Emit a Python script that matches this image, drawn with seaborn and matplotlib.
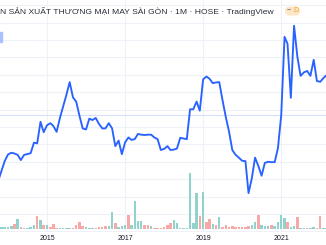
import matplotlib
matplotlib.use("Agg")
import matplotlib.pyplot as plt
import matplotlib.patches as mpatches
import matplotlib.transforms as mtransforms
import numpy as np
import pandas as pd
import seaborn as sns

# ---------------- data (monthly) ----------------
first_month = "2013-10-01"
price = [14.5, 17.4, 20.2, 22.1, 22.6, 22.4, 22.0, 20.5, 22.0, 22.2,
         22.5, 25.5, 25.3, 31.5, 28.5, 30.5, 31.1, 30.3, 28.6, 32.5,
         35.9, 39.2, 42.9, 38.5, 37.3, 33.2, 29.6, 29.3, 32.4, 32.0,
         32.6, 30.9, 29.6, 29.6, 31.1, 29.6, 24.5, 26.1, 22.2, 25.6,
         27.0, 26.3, 26.5, 28.0, 27.8, 27.7, 27.8, 27.8, 27.0, 26.5,
         23.4, 23.7, 24.5, 23.4, 23.5, 23.8, 26.9, 26.7, 26.5, 35.1,
         35.1, 37.3, 34.7, 43.7, 44.5, 43.9, 42.6, 42.8, 42.9, 37.8,
         32.9, 28.6, 23.4, 22.0, 21.2, 20.3, 20.2, 11.0, 15.3, 21.2,
         18.8, 16.0, 19.7, 20.0, 19.9, 19.9, 23.9, 33.4, 55.9, 53.9,
         38.4, 59.1, 50.2, 44.7, 45.7, 46.1, 44.7, 49.3, 43.2, 43.0,
         44.1, 44.9]
volume = [8, 8, 8, 8, 10, 15, 30, 8, 4, 4,
          6, 12, 40, 28, 13, 12, 6, 15, 4, 5,
          5, 5, 5, 5, 13, 23, 10, 6, 3, 3,
          4, 6, 8, 10, 10, 52, 18, 8, 10, 14,
          44, 14, 84, 26, 26, 12, 14, 10, 4, 4,
          4, 6, 12, 20, 28, 18, 4, 4, 4, 170,
          20, 108, 40, 111, 22, 30, 16, 12, 36, 6,
          12, 8, 10, 8, 8, 6, 8, 10, 12, 22,
          43, 12, 10, 10, 12, 10, 22, 42, 34, 23,
          6, 10, 36, 4, 4, 4, 4, 8, 4, 40,
          4, 4]
direction = list("u"
                 "uuuududuuu" "udududdduu" "uudddduuud" "ddduuduuud"
                 "uuuudduddd" "ddduuuuuuu" "ududdududd" "ddddddduud"
                 "uuuduuuudu" "uduuduudduu")
year_ticks = ["2015-01-01", "2017-01-01", "2019-01-01", "2021-01-01"]
year_labels = ["2015", "2017", "2019", "2021"]
ref_price = 33.5
title = "N SẢN XUẤT THƯƠNG MẠI MAY SÀI GÒN · 1M · HOSE · TradingView"

months = pd.date_range(first_month, periods=len(price), freq="MS")
df = pd.DataFrame({"month": months, "price": price,
                   "volume": volume, "dir": direction})

# ---------------- style ----------------
sns.set_theme(style="white")
plt.rcParams["font.family"] = ["Liberation Sans", "DejaVu Sans"]

W, H = 326, 245
fig = plt.figure(figsize=(W / 100, H / 100), dpi=100)
fig.patch.set_facecolor("white")

ax = fig.add_axes([0, 13 / H, 1, 232 / H])
ax_vol = fig.add_axes([0, (H - 229.3) / H, 1, 73.5 / H])
ax.set_facecolor("white")
ax_vol.set_facecolor("none")
ax_vol.set_zorder(ax.get_zorder() + 1)

xlim = (pd.Timestamp("2013-10-18"), pd.Timestamp("2022-02-24"))

# volume bars
vol_colors = {"u": "#92d2cc", "d": "#f7a9a7"}
ax_vol.bar(df["month"], df["volume"], width=23,
           color=[vol_colors[d] for d in df["dir"]], linewidth=0)
ax_vol.set_xlim(*xlim)
ax_vol.set_ylim(0, 220.5)
ax_vol.axis("off")

# price line
sns.lineplot(data=df, x="month", y="price", ax=ax, color="#2962ff",
             linewidth=1.35, zorder=3)
ax.axhline(ref_price, color="#d5e0fc", linewidth=0.8, zorder=2)
ax.set_xlim(*xlim)
ax.set_ylim(-0.172, 66.495)
ax.set_yticks(np.arange(0, 70, 5))
ax.set_xticks(pd.to_datetime(year_ticks))
ax.set_xticklabels(year_labels)
ax.grid(True, color="#eef1f8", linewidth=0.8, zorder=0)
ax.set_axisbelow(True)
ax.tick_params(axis="y", left=False, labelleft=False)
ax.tick_params(axis="x", length=0, pad=2, labelsize=5, labelcolor="#131722")
ax.set_xlabel("")
ax.set_ylabel("")
for s in ax.spines.values():
    s.set_visible(False)

# header text
fig.text(-0.5 / W, 1 - 11 / H, title, ha="left", va="center",
         fontsize=6.1, color="#2a2e39")
# badge: pale pill, grey minus, orange D
px = mtransforms.IdentityTransform()
fig.patches.append(mpatches.FancyBboxPatch(
    (285, H - 15.5), 15, 9, boxstyle="round,pad=0,rounding_size=4.5",
    transform=px, fc="#fde6c6", ec="none", zorder=1))
fig.text(288.5 / W, 1 - 11 / H, "−", ha="center", va="center",
         fontsize=5, color="#5d606b")
fig.text(296 / W, 1 - 11 / H, "D", ha="center", va="center",
         fontsize=5, color="#f59f1f")
fig.patches.append(mpatches.Rectangle((0, 1 - 42 / H), 2 / W, 10 / H,
                                      transform=fig.transFigure,
                                      color="#a9c1ff", zorder=5))

fig.savefig("out.png", dpi=100)
